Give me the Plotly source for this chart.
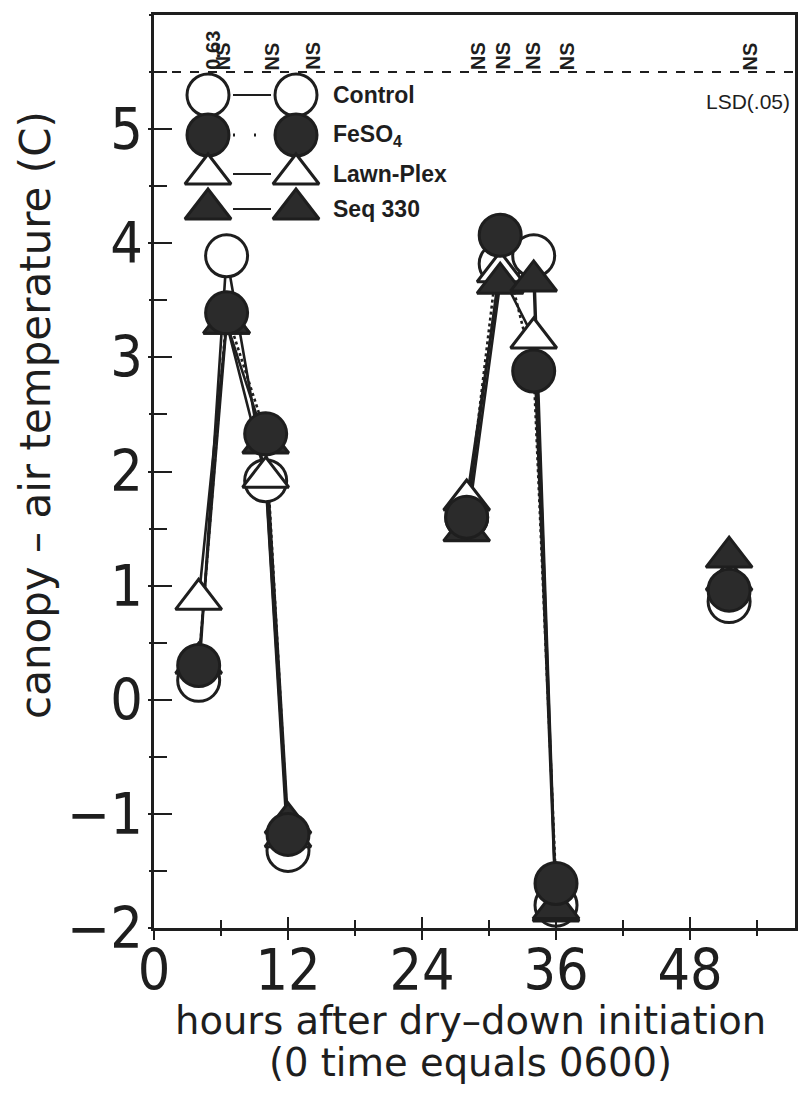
import plotly.graph_objects as go

# ---------------- data ----------------
hours = [4, 6.5, 10, 12, 28, 31, 34, 36, 51.5]
control = [0.17, 3.89, 1.92, -1.32, 1.60, 3.82, 3.89, -1.80, 0.86]
feso4 = [0.30, 3.39, 2.33, -1.18, 1.60, 4.07, 2.88, -1.61, 0.96]
lawn_plex = [0.88, 3.30, 1.95, -1.20, 1.75, 3.75, 3.17, -1.85, 1.05]
seq_330 = [0.32, 3.30, 2.25, -1.08, 1.48, 3.65, 3.67, -1.83, 1.25]

# index ranges that are joined by lines (the 51.5 h point stands alone)
segments = [(0, 4), (4, 8), (8, 9)]

lsd_labels = ["0.63", "NS", "NS", "NS", "NS", "NS", "NS", "NS", "NS"]
lsd_label_hours = [5.2, 6.2, 10.6, 14.2, 29.0, 31.3, 33.9, 37.0, 53.4]
lsd_level = 5.5

x_tick_vals = [0, 12, 24, 36, 48]
y_tick_vals = [-2, -1, 0, 1, 2, 3, 4, 5]

INK = "#1e1e1e"
FILL = "#2b2b2b"
FONT = "DejaVu Sans"
TFONT = "Liberation Sans Narrow, DejaVu Sans Condensed, Liberation Sans"
KFONT = "Liberation Sans"

# name, values, symbol, fill, line dash
S_CONTROL = ("Control", control, "circle", "white", "solid")
S_FESO4 = ("FeSO<sub>4</sub>", feso4, "circle", FILL, "dot")
S_LAWN = ("Lawn-Plex", lawn_plex, "triangle-up", "white", "solid")
S_SEQ = ("Seq 330", seq_330, "triangle-up", FILL, "solid")

draw_order = [S_CONTROL, S_LAWN, S_SEQ, S_FESO4]
key_order = [S_CONTROL, S_FESO4, S_LAWN, S_SEQ]
sizes = {"circle": 42, "triangle-up": 40}

fig = go.Figure()

# lines first
for name, vals, sym, fill, dash in draw_order:
    for a, b in segments:
        if b - a > 1:
            fig.add_trace(go.Scatter(
                x=hours[a:b], y=vals[a:b], mode="lines",
                line=dict(color=INK, width=2.6, dash=dash),
                showlegend=False, hoverinfo="skip"))

# markers
for name, vals, sym, fill, dash in draw_order:
    fig.add_trace(go.Scatter(
        x=hours, y=vals, mode="markers", name=name,
        marker=dict(symbol=sym, size=sizes[sym], color=fill,
                    line=dict(color=INK, width=3)),
        showlegend=False))

# LSD dashed line
fig.add_shape(type="line", xref="paper", x0=0, x1=1, yref="y",
              y0=lsd_level, y1=lsd_level,
              line=dict(color=INK, width=2, dash="dash"))

for lab, hx in zip(lsd_labels, lsd_label_hours):
    fig.add_annotation(x=hx, y=lsd_level, xref="x", yref="y", text=f"<b>{lab}</b>",
                       textangle=-90, showarrow=False, yanchor="bottom",
                       xanchor="center", yshift=0,
                       font=dict(family=KFONT, size=20, color=INK))

fig.add_annotation(x=57.1, y=5.24, xref="x", yref="y", text="LSD(.05)",
                   showarrow=False, xanchor="right", yanchor="middle",
                   font=dict(family=KFONT, size=21, color=INK))

# ---------------- key (drawn on a pixel-unit overlay axis) ----------------
key_rows_y = [95, 135, 174, 209]
key_left_x, key_right_x, key_text_x = 208, 296, 331
for (name, vals, sym, fill, dash), ky in zip(key_order, key_rows_y):
    fig.add_trace(go.Scatter(
        x=[key_left_x + 25, key_right_x - 25], y=[ky, ky], mode="lines",
        line=dict(color=INK, width=2 if dash == "solid" else 3,
                  dash="solid" if dash == "solid" else "2px,19px"),
        xaxis="x2", yaxis="y2", showlegend=False, hoverinfo="skip"))
    fig.add_trace(go.Scatter(
        x=[key_left_x, key_right_x], y=[ky, ky], mode="markers",
        marker=dict(symbol=sym, size=sizes[sym], color=fill,
                    line=dict(color=INK, width=3)),
        xaxis="x2", yaxis="y2", showlegend=False, hoverinfo="skip"))
    fig.add_annotation(x=key_text_x, y=ky, xref="x2", yref="y2", text=f"<b>{name}</b>",
                       showarrow=False, xanchor="left", yanchor="middle",
                       font=dict(family=KFONT, size=23, color=INK))

# dummy trace so the outside-tick overlay axes render
fig.add_trace(go.Scatter(x=[None], y=[None], xaxis="x3", yaxis="y3",
                         showlegend=False, hoverinfo="skip"))

# ---------------- titles ----------------
fig.add_annotation(x=0.493, y=-0.101, xref="paper", yref="paper",
                   text="hours after dry\u2013down initiation", showarrow=False,
                   xanchor="center", yanchor="middle",
                   font=dict(family=FONT, size=38.5, color=INK))
fig.add_annotation(x=0.493, y=-0.147, xref="paper", yref="paper",
                   text="(0 time equals 0600)", showarrow=False,
                   xanchor="center", yanchor="middle",
                   font=dict(family=FONT, size=38.5, color=INK))
fig.add_annotation(x=-0.184, y=0.562, xref="paper", yref="paper",
                   text="canopy \u2013 air temperature (C)", showarrow=False,
                   textangle=-90, xanchor="center", yanchor="middle",
                   font=dict(family=FONT, size=42, color=INK))

XR = [0, 57.4]
YR = [-2, 6.0]
fig.update_layout(
    width=800, height=1101,
    margin=dict(l=154, r=5, t=15, b=173, autoexpand=False),
    paper_bgcolor="white", plot_bgcolor="white",
    showlegend=False,
    xaxis=dict(range=XR, tickvals=x_tick_vals, ticks="inside", ticklen=11,
               tickwidth=2, tickcolor=INK, automargin=False,
               minor=dict(dtick=6, tick0=0, ticks="inside", ticklen=8,
                          tickwidth=2, tickcolor=INK),
               showline=True, linecolor=INK, linewidth=2.5, mirror=True,
               showgrid=False, zeroline=False, ticklabelstandoff=-9,
               tickfont=dict(family=TFONT, size=57, color=INK)),
    yaxis=dict(range=YR, tickvals=y_tick_vals, ticks="inside", ticklen=18,
               tickwidth=2, tickcolor=INK, automargin=False,
               minor=dict(dtick=0.5, tick0=0, ticks="inside", ticklen=13,
                          tickwidth=2, tickcolor=INK),
               showline=True, linecolor=INK, linewidth=2.5, mirror=True,
               showgrid=False, zeroline=False, ticklabelstandoff=-3,
               tickfont=dict(family=TFONT, size=57, color=INK)),
    xaxis2=dict(range=[154, 795], overlaying="x", visible=False, fixedrange=True),
    yaxis2=dict(range=[928, 15], overlaying="y", visible=False, fixedrange=True),
    xaxis3=dict(range=XR, overlaying="x", anchor="y3", side="bottom",
                tickvals=x_tick_vals, ticks="outside", ticklen=11, tickwidth=2,
                tickcolor=INK, showticklabels=False, showline=False,
                showgrid=False, zeroline=False, automargin=False,
                minor=dict(dtick=6, tick0=0, ticks="outside", ticklen=7,
                           tickwidth=2, tickcolor=INK)),
    yaxis3=dict(range=YR, overlaying="y", anchor="x3", side="left",
                tickvals=y_tick_vals, ticks="outside", ticklen=5, tickwidth=2,
                tickcolor=INK, showticklabels=False, showline=False,
                showgrid=False, zeroline=False, automargin=False,
                minor=dict(dtick=0.5, tick0=0, ticks="outside", ticklen=4,
                           tickwidth=2, tickcolor=INK)),
)

fig.write_html("out.html", config={"displayModeBar": False},
               post_script="document.body.style.margin='0';"
                           "document.body.style.overflow='hidden';")
